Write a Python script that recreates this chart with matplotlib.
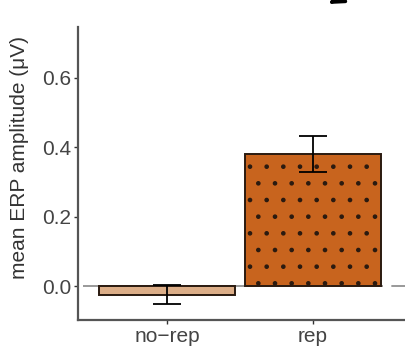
import matplotlib

matplotlib.use("Agg")
import matplotlib.pyplot as plt

plt.rcParams["font.family"] = ["Liberation Sans", "DejaVu Sans"]
plt.rcParams["hatch.linewidth"] = 0.9

conditions = ["no\u2212rep", "rep"]
mean_amp = [-0.025, 0.38]
sem_amp = [0.028, 0.052]
fill_colors = ["#dcae88", "#c8641e"]
y_ticks = [0.0, 0.2, 0.4, 0.6]

fig = plt.figure(figsize=(4.05, 3.58), dpi=100)
ax = fig.add_axes([0.193, 0.106, 0.807, 0.819])

positions = [1, 2]
ax.plot([0.42, 2.63], [0, 0], color="#888888", linewidth=1.2,
        linestyle=(0, (180, 5)), zorder=1)
ax.bar(positions, mean_amp, width=0.93, color=fill_colors,
       edgecolor="#2a1a10", linewidth=1.4, hatch=".", zorder=2)
ax.errorbar(positions, mean_amp, yerr=sem_amp, fmt="none", ecolor="black",
            elinewidth=1.3, capsize=10, capthick=1.3, zorder=3)

ax.set_xlim(0.39, 2.63)
ax.set_ylim(-0.098, 0.746)
ax.set_xticks(positions)
ax.set_xticklabels(conditions)
ax.set_yticks(y_ticks)
ax.set_yticklabels([f"{v:.1f}" for v in y_ticks])
ax.set_ylabel("mean ERP amplitude (\u03bcV)", fontsize=15, color="#333333")
ax.yaxis.set_label_coords(-0.15, 0.555)

for side in ["top", "right"]:
    ax.spines[side].set_visible(False)
for side in ["left", "bottom"]:
    ax.spines[side].set_color("#555555")
    ax.spines[side].set_linewidth(1.6)
ax.tick_params(axis="both", length=3, width=1, color="#333333",
               labelsize=15, labelcolor="#444444", pad=2)

# partial arrow pointing into the panel from above
ax.annotate("", xy=(0.805, 0.985), xycoords="figure fraction",
            xytext=(0.86, 1.02), textcoords="figure fraction",
            arrowprops=dict(arrowstyle="-|>", color="black", lw=2.5,
                            mutation_scale=22),
            annotation_clip=False)

fig.savefig("out.png", dpi=100, facecolor="white")
